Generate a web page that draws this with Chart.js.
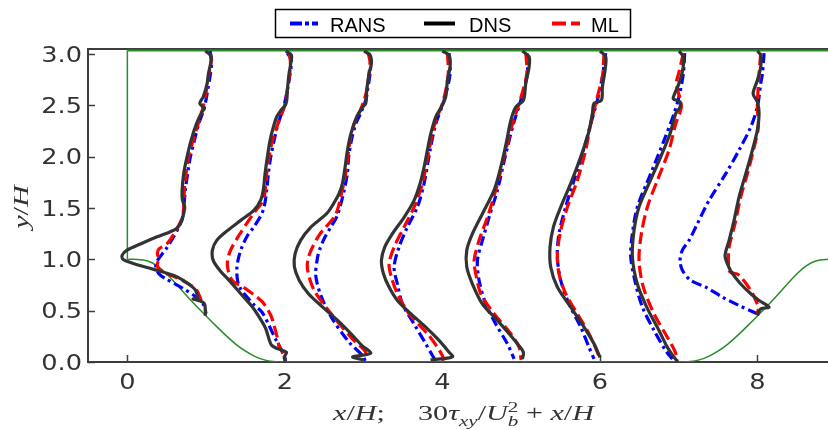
<!DOCTYPE html>
<html>
<head>
<meta charset="utf-8">
<script src="https://cdn.jsdelivr.net/npm/chart.js@4"></script>
<style>
  html, body { margin: 0; padding: 0; background: #fff; }
  canvas { display: block; }
</style>
</head>
<body>
<canvas id="chart" width="828" height="429"></canvas>
<script>
// profile stations x/H and axis ticks
const stations = [1, 2, 3, 4, 5, 6, 7, 8];
const xTicks = [0, 2, 4, 6, 8];
const yTicks = [0, 0.5, 1.0, 1.5, 2.0, 2.5, 3.0];
const seriesNames = ['RANS', 'DNS', 'ML'];

// profiles: [30*tau_xy/Ub^2 + x/H, y/H]
const rans1 = [[1.05,3.03],[1.07,2.94],[1.055,2.81],[1.02,2.65],[0.978,2.48],[0.906,2.32],[0.851,2.16],[0.80,2.0],[0.766,1.84],[0.737,1.68],[0.716,1.51],[0.70,1.41],[0.65,1.31],[0.58,1.21],[0.49,1.10],[0.40,1.01],[0.36,0.94],[0.40,0.86],[0.49,0.81],[0.70,0.72],[0.87,0.635],[0.97,0.555],[1.0,0.47]];
const dns1 = [[0.99,3.03],[1.054,2.99],[1.063,2.94],[1.03,2.81],[1.012,2.71],[0.961,2.58],[0.919,2.52],[0.978,2.47],[0.949,2.44],[0.877,2.32],[0.809,2.16],[0.758,2.0],[0.716,1.84],[0.695,1.67],[0.699,1.58],[0.728,1.51],[0.716,1.45],[0.682,1.36],[0.623,1.30],[0.546,1.27],[0.377,1.22],[0.165,1.15],[-0.004,1.09],[-0.067,1.04],[-0.055,1.0],[0.038,0.97],[0.25,0.92],[0.462,0.875],[0.631,0.83],[0.779,0.76],[0.864,0.70],[0.885,0.63],[0.834,0.615],[0.906,0.60],[0.978,0.57],[0.99,0.50],[0.99,0.45]];
const ml1 = [[1.046,3.01],[1.067,2.94],[1.037,2.81],[1.004,2.65],[0.961,2.48],[0.898,2.32],[0.834,2.16],[0.779,2.0],[0.745,1.84],[0.724,1.68],[0.716,1.51],[0.70,1.41],[0.60,1.26],[0.50,1.15],[0.40,1.10],[0.38,1.055],[0.40,1.01],[0.38,0.94],[0.44,0.88],[0.60,0.83],[0.78,0.76],[0.88,0.70],[0.93,0.615],[0.955,0.565]];

const rans2 = [[2.032,3.01],[2.083,2.94],[2.066,2.81],[2.032,2.65],[1.982,2.48],[1.914,2.32],[1.863,2.16],[1.821,2.0],[1.791,1.84],[1.77,1.68],[1.736,1.51],[1.69,1.42],[1.60,1.31],[1.524,1.23],[1.45,1.11],[1.41,1.01],[1.39,0.91],[1.40,0.79],[1.44,0.71],[1.50,0.65],[1.60,0.565],[1.71,0.485],[1.80,0.355],[1.88,0.225],[1.97,0.095],[2.011,0.015]];
const dns2 = [[2.011,3.03],[2.083,2.99],[2.075,2.91],[2.053,2.81],[2.032,2.65],[2.024,2.55],[2.003,2.50],[1.948,2.45],[1.897,2.39],[1.854,2.29],[1.812,2.16],[1.778,2.0],[1.749,1.84],[1.727,1.68],[1.694,1.58],[1.609,1.48],[1.44,1.38],[1.27,1.28],[1.135,1.185],[1.08,1.09],[1.09,0.99],[1.177,0.89],[1.292,0.795],[1.44,0.665],[1.588,0.535],[1.70,0.405],[1.757,0.325],[1.80,0.22],[1.83,0.165],[1.905,0.13],[2.02,0.095],[1.99,0.046],[2.011,0.005]];
const ml2 = [[2.053,3.01],[2.07,2.93],[2.062,2.81],[2.03,2.65],[1.99,2.48],[1.91,2.32],[1.842,2.16],[1.80,2.0],[1.77,1.84],[1.75,1.68],[1.727,1.58],[1.587,1.43],[1.418,1.235],[1.30,1.07],[1.27,0.94],[1.333,0.795],[1.50,0.715],[1.714,0.585],[1.821,0.455],[1.863,0.355],[1.90,0.25],[1.926,0.16],[1.99,0.064],[2.0,0.01]];

const rans3 = [[3.069,3.01],[3.09,2.93],[3.082,2.81],[3.05,2.65],[3.027,2.55],[2.96,2.42],[2.9,2.32],[2.845,2.16],[2.81,2.0],[2.794,1.84],[2.743,1.64],[2.667,1.43],[2.58,1.31],[2.498,1.20],[2.44,1.09],[2.413,1.01],[2.392,0.845],[2.456,0.65],[2.603,0.42],[2.815,0.193],[2.984,0.064],[3.027,0.0]];
const dns3 = [[3.006,3.03],[3.082,2.99],[3.099,2.91],[3.069,2.81],[3.04,2.65],[3.027,2.52],[2.985,2.48],[2.913,2.39],[2.837,2.22],[2.794,2.06],[2.765,1.90],[2.731,1.74],[2.688,1.64],[2.62,1.545],[2.53,1.445],[2.33,1.315],[2.20,1.185],[2.13,1.055],[2.12,0.93],[2.18,0.80],[2.30,0.665],[2.48,0.535],[2.67,0.405],[2.84,0.275],[2.98,0.16],[3.09,0.085],[2.86,0.05],[3.0,0.02]];
const ml3 = [[3.057,3.01],[3.08,2.93],[3.069,2.81],[3.04,2.65],[3.006,2.55],[2.94,2.42],[2.879,2.32],[2.828,2.16],[2.80,2.0],[2.773,1.84],[2.718,1.64],[2.64,1.43],[2.434,1.235],[2.307,1.04],[2.286,0.91],[2.371,0.70],[2.603,0.455],[2.857,0.226],[3.027,0.096],[3.0,0.02]];

const rans4 = [[4.085,3.01],[4.098,2.81],[4.022,2.55],[3.916,2.32],[3.844,2.065],[3.768,1.74],[3.683,1.51],[3.556,1.315],[3.45,1.12],[3.387,0.925],[3.429,0.76],[3.493,0.565],[3.641,0.37],[3.789,0.177],[3.874,0.063],[3.916,0.007]];
const dns4 = [[4.0,3.03],[4.085,2.99],[4.098,2.875],[4.064,2.745],[4.043,2.585],[3.988,2.485],[3.916,2.39],[3.853,2.225],[3.81,2.065],[3.768,1.90],[3.717,1.74],[3.641,1.575],[3.514,1.41],[3.366,1.25],[3.268,1.12],[3.226,0.99],[3.252,0.86],[3.323,0.73],[3.429,0.60],[3.599,0.47],[3.789,0.34],[3.958,0.21],[4.085,0.095],[4.13,0.05],[3.98,0.03],[3.85,0.02]];
const ml4 = [[4.064,3.01],[4.075,2.81],[4.013,2.55],[3.903,2.32],[3.831,2.065],[3.747,1.74],[3.641,1.51],[3.514,1.315],[3.387,1.12],[3.323,0.957],[3.353,0.827],[3.429,0.665],[3.578,0.47],[3.81,0.275],[3.937,0.144],[4.0,0.063],[4.022,0.014]];

const rans5 = [[5.072,3.01],[5.08,2.81],[4.996,2.55],[4.902,2.32],[4.797,2.0],[4.699,1.675],[4.593,1.41],[4.509,1.185],[4.445,0.99],[4.466,0.795],[4.551,0.565],[4.678,0.37],[4.826,0.177],[4.911,0.03]];
const dns5 = [[5.017,3.03],[5.101,2.975],[5.101,2.875],[5.059,2.715],[5.029,2.55],[4.932,2.485],[4.869,2.355],[4.818,2.16],[4.742,1.90],[4.657,1.675],[4.509,1.445],[4.382,1.25],[4.31,1.09],[4.31,0.925],[4.382,0.76],[4.509,0.565],[4.699,0.405],[4.847,0.275],[4.953,0.177],[5.029,0.095],[5.017,0.03]];
const ml5 = [[5.06,3.01],[5.072,2.81],[4.987,2.55],[4.89,2.32],[4.784,2.0],[4.678,1.675],[4.572,1.41],[4.466,1.185],[4.403,0.99],[4.424,0.86],[4.488,0.665],[4.657,0.47],[4.869,0.275],[4.974,0.144],[5.0,0.02]];

const rans6 = [[6.074,3.01],[6.032,2.78],[5.968,2.55],[5.884,2.32],[5.778,2.03],[5.672,1.77],[5.566,1.51],[5.481,1.25],[5.46,1.023],[5.503,0.795],[5.609,0.565],[5.757,0.34],[5.862,0.144],[5.926,0.03]];
const dns6 = [[6.002,3.03],[6.074,2.975],[6.066,2.845],[6.032,2.68],[6.019,2.55],[5.926,2.52],[5.905,2.42],[5.854,2.225],[5.757,2.0],[5.63,1.74],[5.503,1.51],[5.41,1.315],[5.367,1.12],[5.376,0.925],[5.46,0.73],[5.63,0.535],[5.799,0.34],[5.926,0.177],[6.002,0.046]];
const ml6 = [[6.053,3.01],[6.032,2.78],[5.968,2.585],[5.884,2.32],[5.82,2.065],[5.714,1.77],[5.588,1.51],[5.503,1.28],[5.46,1.055],[5.481,0.86],[5.566,0.665],[5.714,0.47],[5.862,0.275],[5.977,0.079],[5.99,0.03]];

const rans7 = [[7.077,3.01],[7.06,2.81],[7.005,2.585],[6.942,2.42],[6.815,2.16],[6.646,1.835],[6.476,1.51],[6.413,1.25],[6.392,1.023],[6.455,0.76],[6.54,0.535],[6.688,0.307],[6.836,0.111],[6.921,0.03]];
const dns7 = [[7.005,3.03],[7.06,2.975],[7.052,2.845],[7.005,2.715],[6.95,2.615],[6.933,2.565],[7.018,2.535],[7.018,2.485],[6.963,2.42],[6.891,2.225],[6.773,2.0],[6.624,1.74],[6.497,1.51],[6.434,1.28],[6.413,1.023],[6.476,0.76],[6.595,0.535],[6.751,0.307],[6.857,0.144],[6.93,0.06],[6.99,0.0]];
const ml7 = [[7.06,3.01],[7.0,2.81],[6.97,2.72],[6.99,2.645],[7.035,2.485],[6.963,2.32],[6.878,2.065],[6.73,1.77],[6.603,1.51],[6.527,1.25],[6.497,0.99],[6.552,0.73],[6.688,0.47],[6.857,0.242],[6.95,0.11],[6.99,0.02]];

const rans8 = [[8.085,3.01],[8.064,2.81],[8.043,2.715],[8.0,2.485],[7.916,2.29],[7.768,2.065],[7.599,1.835],[7.387,1.575],[7.218,1.315],[7.133,1.185],[7.048,1.09],[7.018,0.99],[7.048,0.893],[7.154,0.795],[7.345,0.73],[7.556,0.632],[7.768,0.55],[8.0,0.47]];
const dns8 = [[8.0,3.03],[8.043,2.99],[8.043,2.875],[8.0,2.745],[7.946,2.615],[8.0,2.535],[8.022,2.42],[8.0,2.26],[7.937,2.065],[7.853,1.835],[7.768,1.61],[7.704,1.38],[7.641,1.185],[7.59,1.04],[7.62,0.957],[7.684,0.86],[7.789,0.76],[7.916,0.665],[8.022,0.60],[8.149,0.535],[8.043,0.518],[8.0,0.453]];
const ml8 = [[8.043,3.01],[8.022,2.81],[8.0,2.485],[8.013,2.29],[7.95,2.065],[7.874,1.835],[7.789,1.61],[7.717,1.35],[7.641,1.12],[7.633,0.957],[7.65,0.88],[7.76,0.85],[7.916,0.70],[7.979,0.60],[8.013,0.535],[8.0,0.47]];

// hill geometry (green)
const hillX = [0, 0.125, 0.25, 0.375, 0.5, 0.625, 0.75, 0.875, 1.0, 1.125, 1.25, 1.375, 1.5, 1.625, 1.75, 1.85, 1.93,
               7.07, 7.15, 7.25, 7.375, 7.5, 7.625, 7.75, 7.875, 8.0, 8.125, 8.25, 8.375, 8.5, 8.625, 8.75, 8.875, 9.0];
const hillY = [1.0, 0.9997, 0.986, 0.939, 0.857, 0.755, 0.649, 0.546, 0.448, 0.352, 0.259, 0.175, 0.105, 0.053, 0.018, 0.004, 0,
               0, 0.004, 0.018, 0.053, 0.105, 0.175, 0.259, 0.352, 0.448, 0.546, 0.649, 0.755, 0.857, 0.939, 0.986, 0.9997, 1.0];
const inletX = [0, 0];
const inletY = [1.0, 3.036];
const wallX = [0, 9.0];
const wallY = [3.036, 3.036];

const ransProfiles = [rans1, rans2, rans3, rans4, rans5, rans6, rans7, rans8];
const dnsProfiles = [dns1, dns2, dns3, dns4, dns5, dns6, dns7, dns8];
const mlProfiles = [ml1, ml2, ml3, ml4, ml5, ml6, ml7, ml8];

const BLUE = '#0000ff';
const RED = '#ff0000';
const DARK = '#333333';
const GREEN = '#2a8c2a';
const AXIS = '#3c3c3c';
const SANS = '"DejaVu Sans", sans-serif';
const SERIF = '"Liberation Serif", "DejaVu Serif", serif';

const pts = arr => arr.map(([x, y]) => ({ x, y }));
const zip = (xs, ys) => xs.map((x, i) => ({ x, y: ys[i] }));

const datasets = [];
stations.forEach((s, i) => {
  datasets.push({ label: 'DNS x=' + s, data: pts(dnsProfiles[i]), borderColor: DARK, borderWidth: 3.2, order: 0, tension: 0.3 });
  datasets.push({ label: 'ML x=' + s, data: pts(mlProfiles[i]), borderColor: RED, borderWidth: 3.2, borderDash: [12, 5], order: 1, tension: 0.3 });
  datasets.push({ label: 'RANS x=' + s, data: pts(ransProfiles[i]), borderColor: BLUE, borderWidth: 3.2, borderDash: [10, 4, 3, 4], order: 2, tension: 0.3 });
});
datasets.push({ label: 'hill', data: zip(hillX, hillY), borderColor: GREEN, borderWidth: 1.5, order: 3, tension: 0.2 });
datasets.push({ label: 'inlet', data: zip(inletX, inletY), borderColor: GREEN, borderWidth: 1.5, order: 3 });
datasets.push({ label: 'wall', data: zip(wallX, wallY), borderColor: GREEN, borderWidth: 2, order: 3 });
datasets.forEach(d => { d.showLine = true; d.pointRadius = 0; d.fill = false; });

const TICK_FONT = 21;
const TICK_STRETCH = 1.22;

function layoutMath(ctx, parts, size) {
  let x = 0;
  const items = [];
  parts.forEach(p => {
    if (p.gap) { x += p.gap; return; }
    const fs = p.small ? size * 0.7 : size;
    const font = (p.it ? 'italic ' : '') + fs + 'px ' + SERIF;
    ctx.font = font;
    const w = ctx.measureText(p.t).width;
    let dy = 0;
    if (p.sub) dy = size * 0.28;
    if (p.sup) dy = -size * 0.38;
    items.push({ t: p.t, x, dy, font });
    if (!p.hold) x += w;
  });
  return { items, width: x };
}

function drawMath(ctx, layout, stretch) {
  ctx.save();
  ctx.scale(stretch, 1);
  ctx.textBaseline = 'alphabetic';
  ctx.textAlign = 'left';
  layout.items.forEach(it => { ctx.font = it.font; ctx.fillText(it.t, it.x, it.dy); });
  ctx.restore();
}

const xTitle = [
  { t: 'x', it: 1 }, { t: '/' }, { t: 'H', it: 1 }, { t: ';' }, { gap: 22 },
  { t: '30' }, { t: 'τ', it: 1 }, { t: 'xy', it: 1, small: 1, sub: 1 }, { t: '/' },
  { t: 'U', it: 1 }, { t: 'b', it: 1, small: 1, sub: 1, hold: 1 }, { t: '2', small: 1, sup: 1 },
  { t: ' + ' }, { t: 'x', it: 1 }, { t: '/' }, { t: 'H', it: 1 }
];
const yTitle = [{ t: 'y', it: 1 }, { t: '/' }, { t: 'H', it: 1 }];

const decor = {
  id: 'decor',
  beforeDatasetsDraw(chart) {
    const { ctx, chartArea: a, scales: { x, y } } = chart;
    ctx.save();
    ctx.strokeStyle = AXIS;
    ctx.lineWidth = 2;
    ctx.beginPath();
    ctx.moveTo(a.left - 1, a.top);
    ctx.lineTo(a.right, a.top);
    ctx.stroke();
    ctx.lineWidth = 1.5;
    xTicks.forEach(v => {
      const px = Math.round(x.getPixelForValue(v)) + 0.5;
      ctx.beginPath(); ctx.moveTo(px, a.bottom); ctx.lineTo(px, a.bottom - 7); ctx.stroke();
    });
    yTicks.forEach(v => {
      const py = Math.round(y.getPixelForValue(v)) + 0.5;
      ctx.beginPath(); ctx.moveTo(a.left, py); ctx.lineTo(a.left + 7, py); ctx.stroke();
    });
    ctx.restore();
  },
  afterDraw(chart) {
    const { ctx, chartArea: a, scales: { x, y } } = chart;
    ctx.save();
    // tick labels
    ctx.fillStyle = '#333';
    ctx.font = TICK_FONT + 'px ' + SANS;
    ctx.textBaseline = 'alphabetic';
    yTicks.forEach(v => {
      const py = y.getPixelForValue(v);
      ctx.save();
      ctx.translate(a.left - 6, py + TICK_FONT * 0.36);
      ctx.scale(TICK_STRETCH, 1);
      ctx.textAlign = 'right';
      ctx.fillText(v.toFixed(1), 0, 0);
      ctx.restore();
    });
    xTicks.forEach(v => {
      const px = x.getPixelForValue(v);
      ctx.save();
      ctx.translate(px, a.bottom + 27);
      ctx.scale(TICK_STRETCH, 1);
      ctx.textAlign = 'center';
      ctx.fillText(String(v), 0, 0);
      ctx.restore();
    });

    // axis titles
    ctx.fillStyle = '#333';
    const xl = layoutMath(ctx, xTitle, 20);
    const stretch = 261 / xl.width;
    ctx.save();
    ctx.translate(333, 420);
    drawMath(ctx, xl, stretch);
    ctx.restore();
    const yl = layoutMath(ctx, yTitle, 20);
    ctx.save();
    ctx.translate(28, 207 + yl.width * stretch / 2);
    ctx.rotate(-Math.PI / 2);
    drawMath(ctx, yl, stretch);
    ctx.restore();

    // legend
    ctx.fillStyle = '#fff';
    ctx.fillRect(275, 9, 356, 29);
    ctx.strokeStyle = '#000';
    ctx.lineWidth = 1.5;
    ctx.strokeRect(275.5, 9.5, 355, 28);
    const ly = 23.5;
    const samples = [
      { x0: 290, x1: 318, color: BLUE, dash: [12, 3, 4, 3], tx: 330 },
      { x0: 424, x1: 455, color: '#000', dash: [], tx: 469 },
      { x0: 552, x1: 580, color: RED, dash: [14, 5], tx: 591 }
    ];
    samples.forEach((s, i) => {
      ctx.strokeStyle = s.color;
      ctx.lineWidth = 4;
      ctx.setLineDash(s.dash);
      ctx.beginPath(); ctx.moveTo(s.x0, ly); ctx.lineTo(s.x1, ly); ctx.stroke();
      ctx.setLineDash([]);
      ctx.fillStyle = '#000';
      ctx.font = '20px "Liberation Sans", Arial, sans-serif';
      ctx.textAlign = 'left';
      ctx.textBaseline = 'alphabetic';
      ctx.fillText(seriesNames[i], s.tx, 32);
    });
    ctx.restore();
  }
};

new Chart(document.getElementById('chart'), {
  type: 'scatter',
  data: { datasets },
  options: {
    responsive: false,
    animation: false,
    devicePixelRatio: 1,
    layout: { padding: { top: 49, right: 0, left: 0, bottom: 0 } },
    plugins: { legend: { display: false }, tooltip: { enabled: false } },
    scales: {
      x: {
        type: 'linear', min: -0.5, max: 8.897,
        grid: { display: false },
        border: { display: true, color: AXIS, width: 2 },
        ticks: { display: false },
        afterFit(s) { s.height = 67; }
      },
      y: {
        type: 'linear', min: 0, max: 3.05,
        grid: { display: false },
        border: { display: true, color: AXIS, width: 2 },
        ticks: { display: false },
        afterFit(s) { s.width = 88; }
      }
    }
  },
  plugins: [decor]
});
</script>
</body>
</html>
